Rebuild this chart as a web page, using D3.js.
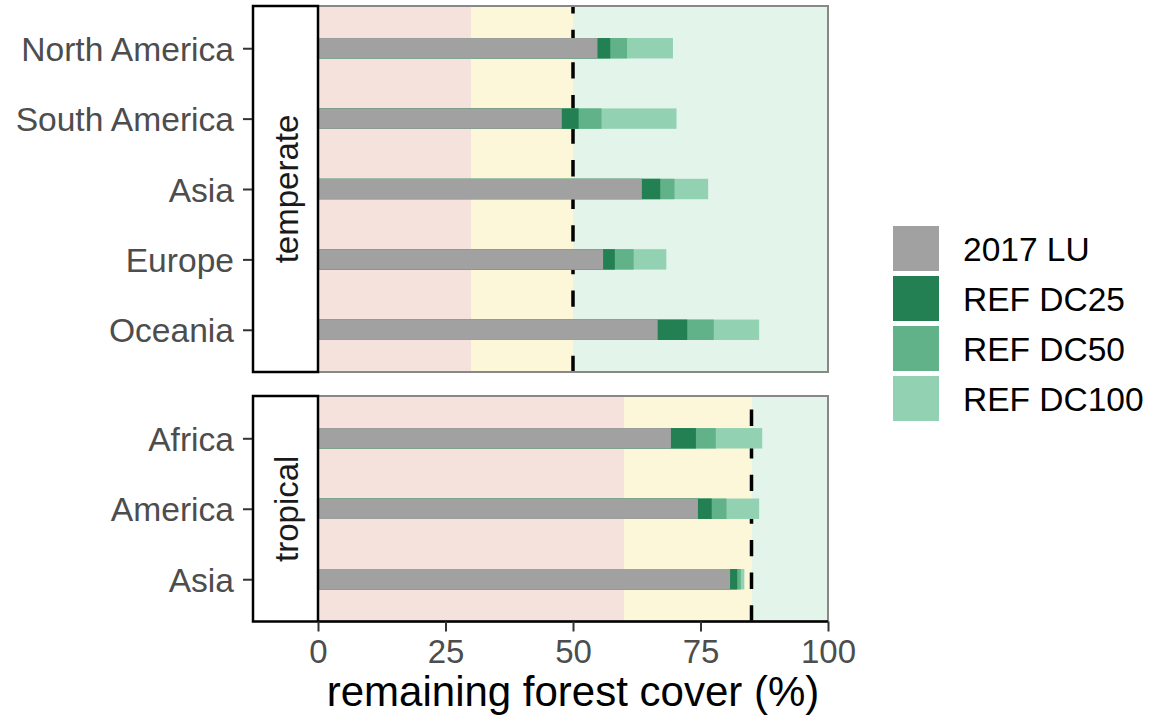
<!DOCTYPE html>
<html>
<head>
<meta charset="utf-8">
<script src="https://cdn.jsdelivr.net/npm/d3@7"></script>
<style>
  body { margin: 0; background: #fff; }
  svg { font-family: "Liberation Sans", Arial, sans-serif; }
</style>
</head>
<body>
<svg id="chart" width="1150" height="724"></svg>
<script>
// ---------- data ----------
const temperateRegions = ["North America", "South America", "Asia", "Europe", "Oceania"];
const tropicalRegions = ["Africa", "America", "Asia"];
const seriesNames = ["2017 LU", "REF DC25", "REF DC50", "REF DC100"];
const seriesColors = ["#a0a1a0", "#238052", "#62b289", "#92d2b2"];

// remaining forest cover (%) per scenario
const temperateLU    = [54.8, 47.8, 63.5, 55.9, 66.6];
const temperateDC25  = [57.3, 51.1, 67.1, 58.2, 72.4];
const temperateDC50  = [60.6, 55.6, 69.9, 61.9, 77.6];
const temperateDC100 = [69.6, 70.3, 76.5, 68.3, 86.5];

const tropicalLU    = [69.2, 74.5, 80.8];
const tropicalDC25  = [74.1, 77.2, 82.2];
const tropicalDC50  = [78.0, 80.1, 82.9];
const tropicalDC100 = [87.1, 86.5, 83.6];

// threshold zones: [red end, yellow end], dashed line at yellow end
const temperateZones = [30, 50];
const tropicalZones = [60, 85];
const zoneColors = ["#f6e2dc", "#fdf7da", "#e3f4eb"];

const xTicks = [0, 25, 50, 75, 100];

// ---------- layout ----------
const svg = d3.select("#chart");
const x = d3.scaleLinear().domain([0, 100]).range([318, 828]);

const panels = [
  { name: "temperate", cats: temperateRegions, top: 6, bottom: 372,
    vals: [temperateLU, temperateDC25, temperateDC50, temperateDC100], zones: temperateZones },
  { name: "tropical", cats: tropicalRegions, top: 396, bottom: 621.5,
    vals: [tropicalLU, tropicalDC25, tropicalDC50, tropicalDC100], zones: tropicalZones }
];

panels.forEach(p => {
  const y = d3.scalePoint().domain(p.cats).range([p.top, p.bottom]).padding(0.6);
  const step = y.step();
  const barH = step * 0.29;
  const g = svg.append("g");

  // zones
  const bounds = [0, p.zones[0], p.zones[1], 100];
  for (let i = 0; i < 3; i++) {
    g.append("rect")
      .attr("x", x(bounds[i])).attr("width", x(bounds[i + 1]) - x(bounds[i]))
      .attr("y", p.top).attr("height", p.bottom - p.top)
      .attr("fill", zoneColors[i]);
  }

  // dashed threshold (drawn from bottom up)
  g.append("line")
    .attr("x1", x(p.zones[1])).attr("x2", x(p.zones[1]))
    .attr("y1", p.bottom).attr("y2", p.top)
    .attr("stroke", "#000").attr("stroke-width", 3.5)
    .attr("stroke-dasharray", "16.3,16.3");

  // bars (longest first so shorter overlay)
  for (let s = 3; s >= 0; s--) {
    g.selectAll(null).data(p.cats.map((c, i) => ({ c, v: p.vals[s][i] })))
      .enter().append("rect")
      .attr("x", x(0))
      .attr("width", d => x(d.v) - x(0))
      .attr("y", d => y(d.c) - barH / 2)
      .attr("height", barH)
      .attr("fill", seriesColors[s]);
  }

  // panel border
  g.append("rect")
    .attr("x", x(0)).attr("y", p.top)
    .attr("width", x(100) - x(0)).attr("height", p.bottom - p.top)
    .attr("fill", "none").attr("stroke", "#888").attr("stroke-width", 2);
  // left axis line
  g.append("line")
    .attr("x1", x(0)).attr("x2", x(0)).attr("y1", p.top).attr("y2", p.bottom)
    .attr("stroke", "#000").attr("stroke-width", 2);

  // strip
  g.append("rect")
    .attr("x", 253).attr("y", p.top)
    .attr("width", x(0) - 253).attr("height", p.bottom - p.top)
    .attr("fill", "#fff").attr("stroke", "#000").attr("stroke-width", 2.5);
  g.append("text")
    .attr("transform", `translate(${(253 + x(0)) / 2 + 1},${(p.top + p.bottom) / 2}) rotate(-90)`)
    .attr("text-anchor", "middle").attr("dominant-baseline", "central")
    .attr("font-size", 33).attr("fill", "#1a1a1a")
    .text(p.name);

  // y axis
  const yAxis = d3.axisLeft(y).tickSize(9).tickPadding(9);
  const ag = svg.append("g").attr("transform", "translate(252,0)").call(yAxis);
  ag.select(".domain").remove();
  ag.selectAll(".tick line").attr("stroke", "#333").attr("stroke-width", 2);
  ag.selectAll(".tick text").attr("font-size", 33.6).attr("fill", "#4d4d4d")
    .attr("dy", "0.36em")
    .attr("font-family", "Liberation Sans, Arial, sans-serif");
});

// x axis
const xAxis = d3.axisBottom(x).tickValues(xTicks).tickSize(10).tickPadding(8);
const xg = svg.append("g").attr("transform", "translate(0,621.5)").call(xAxis);
xg.select(".domain").attr("stroke", "#000").attr("stroke-width", 2.5).attr("d", `M${x(0)},0H${x(100)}`);
xg.selectAll(".tick line").attr("stroke", "#333").attr("stroke-width", 2);
xg.selectAll(".tick text").attr("font-size", 33).attr("fill", "#4d4d4d")
  .attr("font-family", "Liberation Sans, Arial, sans-serif");

svg.append("text")
  .attr("x", (x(0) + x(100)) / 2).attr("y", 706)
  .attr("text-anchor", "middle").attr("font-size", 42).attr("fill", "#000")
  .text("remaining forest cover (%)");

// legend
const lg = svg.append("g").attr("transform", "translate(893,226)");
seriesNames.forEach((n, i) => {
  lg.append("rect").attr("x", 0).attr("y", i * 50).attr("width", 46).attr("height", 45)
    .attr("fill", seriesColors[i]);
  lg.append("text").attr("x", 70).attr("y", i * 50 + 23)
    .attr("dominant-baseline", "central").attr("font-size", 33.5).attr("fill", "#000")
    .text(n);
});
</script>
</body>
</html>
